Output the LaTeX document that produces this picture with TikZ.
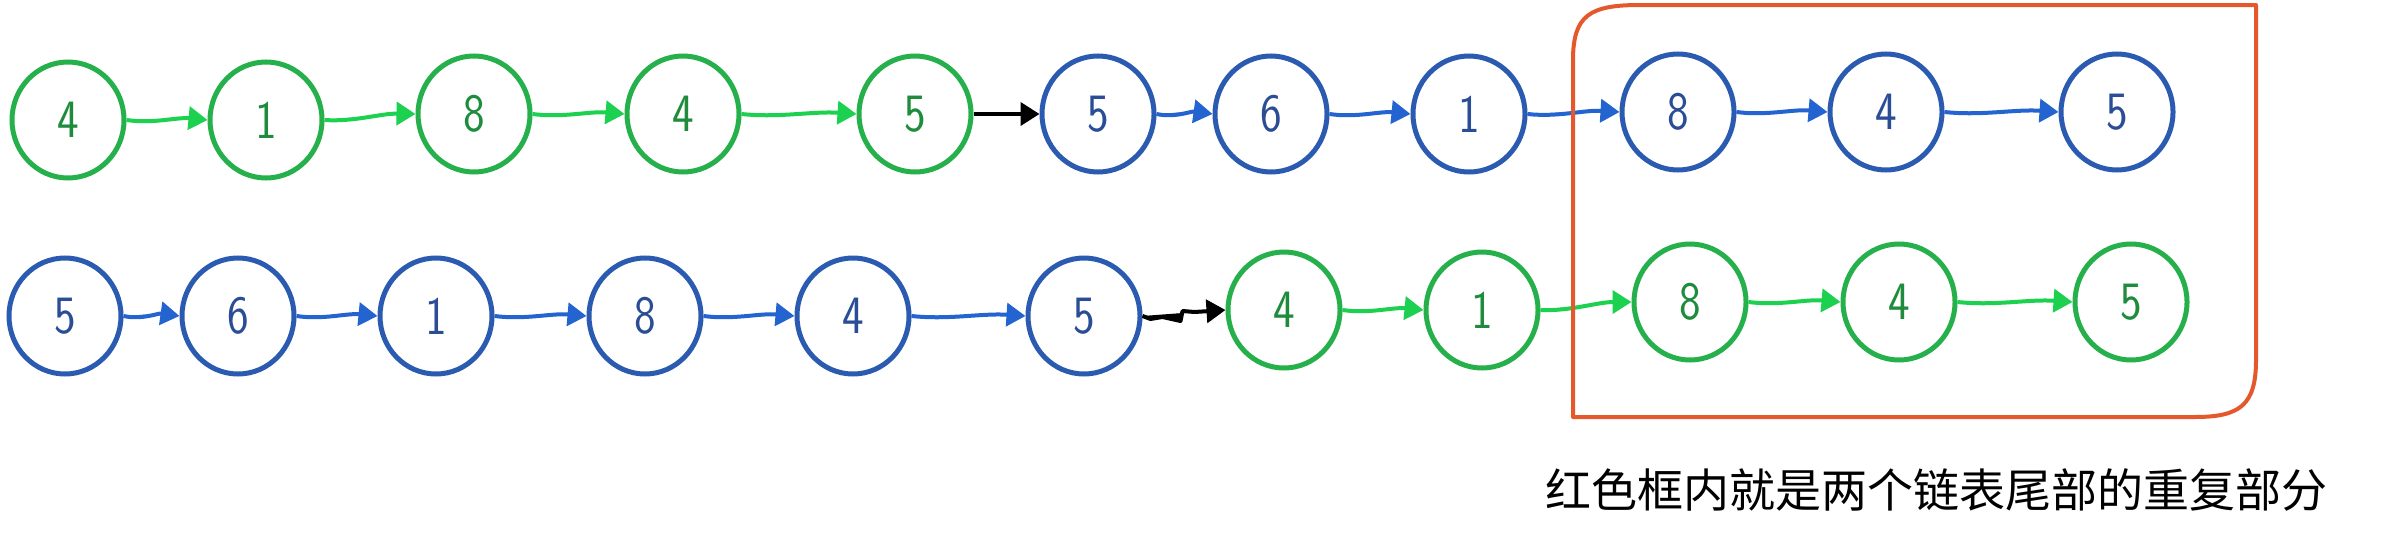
\documentclass[tikz,border=0pt]{standalone}
\usepackage{fontspec}
\newfontfamily\cjk{Noto Sans CJK SC}
\newfontfamily\digitfont{Latin Modern Sans}[FakeStretch=0.85]
\usetikzlibrary{shapes.geometric,arrows.meta,calc}
\definecolor{gcirc}{HTML}{25B04B}
\definecolor{garr}{HTML}{1CD050}
\definecolor{gtxt}{HTML}{1E8C3C}
\definecolor{bcirc}{HTML}{2B5BB0}
\definecolor{barr}{HTML}{2464D0}
\definecolor{btxt}{HTML}{2A4D96}
\definecolor{redbox}{HTML}{E4582B}
\tikzset{
  lnode/.style={ellipse, minimum width=112pt, minimum height=116pt, line width=5pt, inner sep=0pt,
    font=\digitfont\fontsize{54}{54}\selectfont},
  gnode/.style={lnode, draw=gcirc, text=gtxt},
  bnode/.style={lnode, draw=bcirc, text=btxt},
  wavy/.style={to path={.. controls ($(\tikztostart)!0.33!(\tikztotarget)+(0,4)$) and ($(\tikztostart)!0.62!(\tikztotarget)+(0,-3)$) .. (\tikztotarget) \tikztonodes}},
  link/.style={line width=4pt, -{Triangle[length=19pt,width=23pt]}, wavy},
  glink/.style={link, draw=garr, fill=garr},
  blink/.style={link, draw=barr, fill=barr},
  klink/.style={line width=4pt, -{Triangle[length=19pt,width=23pt]}, draw=black, fill=black},
}
\begin{document}
\begin{tikzpicture}[x=1pt,y=-1pt]
\useasboundingbox (0,0) rectangle (2383,538);
% row 1
\node[gnode] (a1) at (68,120) {4};
\node[gnode] (a2) at (266,120) {1};
\node[gnode] (a3) at (474,114) {8};
\node[gnode] (a4) at (683,114) {4};
\node[gnode] (a5) at (915,114) {5};
\node[bnode] (a6) at (1098,114) {5};
\node[bnode] (a7) at (1271,114) {6};
\node[bnode] (a8) at (1469,114) {1};
\node[bnode] (a9) at (1678,112) {8};
\node[bnode] (a10) at (1886,112) {4};
\node[bnode] (a11) at (2117,112) {5};
% row 2
\node[bnode] (b1) at (65,316) {5};
\node[bnode] (b2) at (238,316) {6};
\node[bnode] (b3) at (436,316) {1};
\node[bnode] (b4) at (645,316) {8};
\node[bnode] (b5) at (853,316) {4};
\node[bnode] (b6) at (1084,316) {5};
\node[gnode] (b7) at (1284,310) {4};
\node[gnode] (b8) at (1482,310) {1};
\node[gnode] (b9) at (1690,302) {8};
\node[gnode] (b10) at (1899,302) {4};
\node[gnode] (b11) at (2131,302) {5};
% row 1 links
\draw[glink] (a1.east) to (a2.west);
\draw[glink] (a2.east) to (a3.west);
\draw[glink] (a3.east) to (a4.west);
\draw[glink] (a4.east) to (a5.west);
\draw[klink] (a5.east) -- (a6.west);
\draw[blink] (a6.east) to (a7.west);
\draw[blink] (a7.east) to (a8.west);
\draw[blink] (a8.east) to (a9.west);
\draw[blink] (a9.east) to (a10.west);
\draw[blink] (a10.east) to (a11.west);
% row 2 links
\draw[blink] (b1.east) to (b2.west);
\draw[blink] (b2.east) to (b3.west);
\draw[blink] (b3.east) to (b4.west);
\draw[blink] (b4.east) to (b5.west);
\draw[blink] (b5.east) to (b6.west);
\draw[klink, line join=round] (b6.east) -- ++(8,3) -- ++(12,-2) -- ++(18,4) -- ++(2,-10) -- ++(12,1) -- (b7.west);
\draw[glink] (b7.east) to (b8.west);
\draw[glink] (b8.east) to (b9.west);
\draw[glink] (b9.east) to (b10.west);
\draw[glink] (b10.east) to (b11.west);
% red frame
\draw[redbox, line width=4pt, line join=round]
  (1573,417) -- (1573,60) .. controls (1573,15) and (1590,5) .. (1640,5)
  -- (2256,5) -- (2256,360) .. controls (2256,405) and (2240,417) .. (2195,417) -- cycle;
% caption
\node[anchor=west, inner sep=0pt, font=\cjk\fontsize{46}{46}\selectfont] (cap) at (1545,490) {红色框内就是两个链表尾部的重复部分};
\end{tikzpicture}
\end{document}
